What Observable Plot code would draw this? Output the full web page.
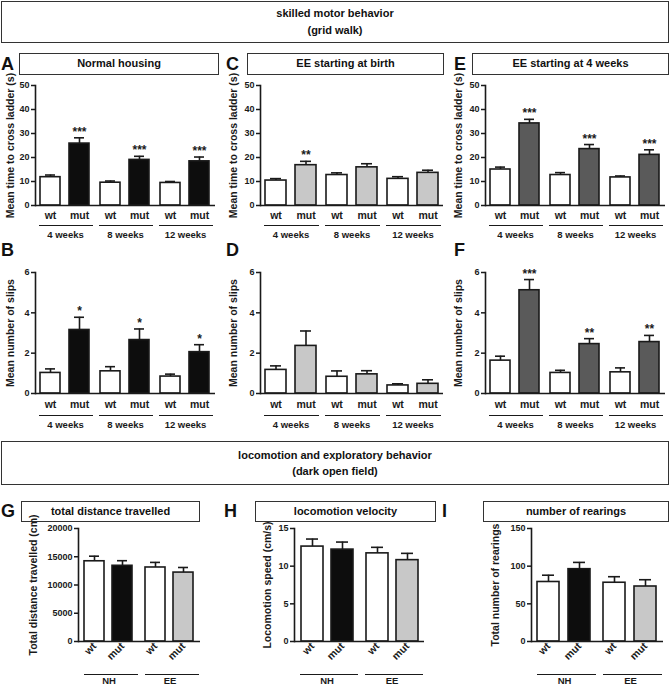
<!DOCTYPE html>
<html>
<head>
<meta charset="utf-8">
<script src="https://cdn.jsdelivr.net/npm/d3@7"></script>
<script src="https://cdn.jsdelivr.net/npm/@observablehq/plot@0.6"></script>
<style>
  body { margin: 0; background: #fff; }
  #fig { position: relative; width: 671px; height: 686px; background: #fff; overflow: hidden;
         font-family: "Liberation Sans", Arial, sans-serif; font-weight: bold; color: #111; }
  .box { position: absolute; box-sizing: border-box; border: 1.5px solid #333; text-align: center; font-size: 11px; }
  .letter { position: absolute; font-size: 18px; font-weight: bold; line-height: 20px; }
  .chart { position: absolute; }
</style>
</head>
<body>
<div id="fig">
  <div class="box" style="left:1px;top:1px;width:668px;height:42px;line-height:17px;padding-top:3px;">skilled motor behavior<br>(grid walk)</div>

  <div class="letter" style="left:1px;top:54px;">A</div>
  <div class="box" style="left:19px;top:53px;width:200px;height:22px;line-height:19px;">Normal housing</div>
  <div class="letter" style="left:226px;top:54px;">C</div>
  <div class="box" style="left:247px;top:53px;width:197px;height:22px;line-height:19px;">EE starting at birth</div>
  <div class="letter" style="left:454px;top:54px;">E</div>
  <div class="box" style="left:472px;top:53px;width:197px;height:22px;line-height:19px;">EE starting at 4 weeks</div>

  <div class="letter" style="left:1px;top:240px;">B</div>
  <div class="letter" style="left:226px;top:240px;">D</div>
  <div class="letter" style="left:454px;top:240px;">F</div>

  <div class="box" style="left:1px;top:441px;width:668px;height:44px;line-height:16px;padding-top:5px;">locomotion and exploratory behavior<br>(dark open field)</div>

  <div class="letter" style="left:1px;top:501px;">G</div>
  <div class="box" style="left:21px;top:501px;width:179px;height:21px;line-height:18px;">total distance travelled</div>
  <div class="letter" style="left:224px;top:501px;">H</div>
  <div class="box" style="left:255px;top:501px;width:181px;height:21px;line-height:18px;">locomotion velocity</div>
  <div class="letter" style="left:442px;top:501px;">I</div>
  <div class="box" style="left:483px;top:501px;width:186px;height:21px;line-height:18px;">number of rearings</div>

  <div class="chart" id="pA" style="left:0px;top:75px;"></div>
  <div class="chart" id="pC" style="left:225px;top:75px;"></div>
  <div class="chart" id="pE" style="left:450px;top:75px;"></div>
  <div class="chart" id="pB" style="left:0px;top:262px;"></div>
  <div class="chart" id="pD" style="left:225px;top:262px;"></div>
  <div class="chart" id="pF" style="left:450px;top:262px;"></div>
  <div class="chart" id="pG" style="left:0px;top:518px;"></div>
  <div class="chart" id="pH" style="left:225px;top:518px;"></div>
  <div class="chart" id="pI" style="left:450px;top:518px;"></div>
</div>
<script>
// ---------- categories ----------
const genotypes = ["wt", "mut"];
const ages = ["4 weeks", "8 weeks", "12 weeks"];
const housings = ["NH", "EE"];

// ---------- grid walk: time to cross ladder (s); order wt4, mut4, wt8, mut8, wt12, mut12 ----------
const timeNormalMean = [11.8, 25.8, 9.5, 19.0, 9.4, 18.4];
const timeNormalSem  = [0.9, 2.4, 0.7, 1.5, 0.6, 1.8];
const timeNormalSig  = ["", "***", "", "***", "", "***"];

const timeBirthMean = [10.4, 16.8, 12.7, 15.9, 11.1, 13.6];
const timeBirthSem  = [0.8, 1.6, 0.9, 1.5, 0.9, 1.1];
const timeBirthSig  = ["", "**", "", "", "", ""];

const time4wMean = [15.0, 34.2, 12.7, 23.5, 11.7, 21.1];
const time4wSem  = [1.0, 1.7, 1.0, 1.9, 0.6, 2.1];
const time4wSig  = ["", "***", "", "***", "", "***"];

// ---------- grid walk: number of slips ----------
const slipsNormalMean = [1.02, 3.15, 1.10, 2.65, 0.84, 2.05];
const slipsNormalSem  = [0.20, 0.63, 0.23, 0.55, 0.12, 0.37];
const slipsNormalSig  = ["", "*", "", "*", "", "*"];

const slipsBirthMean = [1.17, 2.36, 0.83, 0.95, 0.40, 0.48];
const slipsBirthSem  = [0.20, 0.74, 0.29, 0.18, 0.08, 0.20];
const slipsBirthSig  = ["", "", "", "", "", ""];

const slips4wMean = [1.63, 5.12, 1.02, 2.45, 1.05, 2.55];
const slips4wSem  = [0.22, 0.53, 0.13, 0.27, 0.22, 0.33];
const slips4wSig  = ["", "***", "", "**", "", "**"];

// ---------- open field; order wt NH, mut NH, wt EE, mut EE ----------
const distanceMean = [14200, 13400, 13100, 12200];
const distanceSem  = [900, 900, 900, 900];

const velocityMean = [12.6, 12.2, 11.7, 10.8];
const velocitySem  = [1.0, 1.0, 0.8, 0.9];

const rearingsMean = [79, 96, 78, 73];
const rearingsSem  = [9, 9, 8, 9];

// ---------- tick values ----------
const timeTicks = [0, 10, 20, 30, 40, 50];
const slipTicks = [0, 2, 4, 6];
const distanceTicks = [0, 5000, 10000, 15000, 20000];
const velocityTicks = [0, 5, 10, 15];
const rearingTicks = [0, 50, 100, 150];

// ---------- colours ----------
const WHITE = "#ffffff", BLACK = "#0d0d0d", LIGHT = "#c8c8c8", DARK = "#5a5a5a", INK = "#1a1a1a";

function barPanel(cfg) {
  const rows = [];
  cfg.groups.forEach((g, gi) => genotypes.forEach((k, ki) => {
    const i = gi * 2 + ki;
    rows.push({
      group: g, geno: k, mean: cfg.mean[i], hi: cfg.mean[i] + cfg.sem[i],
      sig: cfg.sig ? cfg.sig[i] : "",
      fill: k === "wt" ? WHITE : cfg.mutFill(g)
    });
  }));
  const svg = Plot.plot({
    width: cfg.width, height: cfg.height,
    marginTop: 10, marginBottom: cfg.marginBottom,
    marginLeft: cfg.marginLeft, marginRight: cfg.marginRight,
    style: {fontFamily: "'Liberation Sans', Arial, sans-serif", fontWeight: "bold", fontSize: "9px", color: INK, background: "transparent", overflow: "visible"},
    fx: {domain: cfg.groups, padding: 0, axis: null},
    x: {domain: genotypes, paddingInner: cfg.pInner, paddingOuter: cfg.pOuter},
    y: {domain: cfg.yDomain},
    color: {type: "identity"},
    marks: [
      Plot.barY(rows, {fx: "group", x: "geno", y: "mean", fill: "fill", stroke: INK, strokeWidth: 1.6}),
      Plot.ruleX(rows, {fx: "group", x: "geno", y1: "mean", y2: "hi", stroke: INK, strokeWidth: 1.6}),
      Plot.tickY(rows, {fx: "group", x: "geno", y: "hi", stroke: INK, strokeWidth: 1.6, insetLeft: 5, insetRight: 5}),
      Plot.text(rows, {fx: "group", x: "geno", y: "hi", text: "sig", lineAnchor: "bottom", dy: -2, fontSize: 12, fill: INK}),
      Plot.ruleY([0], {stroke: INK, strokeWidth: 1.6}),
      Plot.frame({anchor: "left", facetAnchor: "left", stroke: INK, strokeWidth: 1.6}),
      Plot.axisY({ticks: cfg.yTicks, tickSize: 4, tickPadding: 2, tickFormat: d => String(d), fontSize: 9,
                  stroke: INK, strokeWidth: 1.5,
                  label: cfg.yLabel, labelAnchor: "center", labelOffset: cfg.labelOffset, labelArrow: "none"}),
      Plot.axisX({tickSize: 0, tickPadding: cfg.xPad, fontSize: 10.5, tickRotate: cfg.rotate, label: null}),
      Plot.ruleY([0], {dy: cfg.lineDy, insetLeft: cfg.lineInsetLeft, insetRight: cfg.lineInsetRight, stroke: INK, strokeWidth: 1.2}),
      Plot.text(cfg.groups, {fx: d => d, text: d => d, frameAnchor: "bottom", dy: cfg.groupDy, fontSize: 9.5, fill: INK})
    ]
  });
  // larger axis title, as in the reference
  d3.select(svg).selectAll('g[aria-label="y-axis label"]').attr("font-size", 10.5);
  return svg;
}

const gridCommon = {groups: ages, pInner: 0.3, pOuter: 0.16, rotate: 0, xPad: 6,
                    lineDy: 20, groupDy: 32, lineInsetLeft: 4, lineInsetRight: 2, marginBottom: 40};

const panels = [
  ["pA", {...gridCommon, height: 170, width: 225, marginLeft: 34, marginRight: 10, labelOffset: 29,
          mean: timeNormalMean, sem: timeNormalSem, sig: timeNormalSig, mutFill: () => BLACK,
          yDomain: [0, 50], yTicks: timeTicks, yLabel: "Mean time to cross ladder (s)"}],
  ["pC", {...gridCommon, height: 170, width: 225, marginLeft: 35, marginRight: 7, labelOffset: 31,
          mean: timeBirthMean, sem: timeBirthSem, sig: timeBirthSig, mutFill: () => LIGHT,
          yDomain: [0, 50], yTicks: timeTicks, yLabel: "Mean time to cross ladder (s)"}],
  ["pE", {...gridCommon, height: 170, width: 221, marginLeft: 34, marginRight: 5, labelOffset: 31,
          mean: time4wMean, sem: time4wSem, sig: time4wSig, mutFill: () => DARK,
          yDomain: [0, 50], yTicks: timeTicks, yLabel: "Mean time to cross ladder (s)"}],
  ["pB", {...gridCommon, height: 171, width: 225, marginLeft: 34, marginRight: 10, labelOffset: 29,
          lineDy: 22, groupDy: 34, xPad: 7,
          mean: slipsNormalMean, sem: slipsNormalSem, sig: slipsNormalSig, mutFill: () => BLACK,
          yDomain: [0, 6], yTicks: slipTicks, yLabel: "Mean number of slips"}],
  ["pD", {...gridCommon, height: 171, width: 225, marginLeft: 35, marginRight: 7, labelOffset: 31,
          lineDy: 22, groupDy: 34, xPad: 7,
          mean: slipsBirthMean, sem: slipsBirthSem, sig: slipsBirthSig, mutFill: () => LIGHT,
          yDomain: [0, 6], yTicks: slipTicks, yLabel: "Mean number of slips"}],
  ["pF", {...gridCommon, height: 171, width: 221, marginLeft: 34, marginRight: 5, labelOffset: 31,
          lineDy: 22, groupDy: 34, xPad: 7,
          mean: slips4wMean, sem: slips4wSem, sig: slips4wSig, mutFill: () => DARK,
          yDomain: [0, 6], yTicks: slipTicks, yLabel: "Mean number of slips"}]
];

const ofCommon = {groups: housings, pInner: 0.28, pOuter: 0.2, rotate: -45, xPad: 3,
                  lineDy: 33, groupDy: 42, lineInsetLeft: 6, lineInsetRight: 1,
                  height: 168, marginBottom: 45, sig: null,
                  mutFill: g => (g === "NH" ? BLACK : LIGHT)};

panels.push(
  ["pG", {...ofCommon, width: 225, marginLeft: 78, marginRight: 25, labelOffset: 49,
          mean: distanceMean, sem: distanceSem, yDomain: [0, 20000], yTicks: distanceTicks,
          yLabel: "Total distance travelled (cm)"}],
  ["pH", {...ofCommon, width: 225, marginLeft: 68, marginRight: 26, labelOffset: 31,
          mean: velocityMean, sem: velocitySem, yDomain: [0, 15], yTicks: velocityTicks,
          yLabel: "Locomotion speed (cm/s)"}],
  ["pI", {...ofCommon, width: 221, marginLeft: 80, marginRight: 8, labelOffset: 40,
          mean: rearingsMean, sem: rearingsSem, yDomain: [0, 150], yTicks: rearingTicks,
          yLabel: "Total number of rearings"}]
);

for (const [id, cfg] of panels) {
  document.getElementById(id).appendChild(barPanel(cfg));
}
</script>
</body>
</html>
